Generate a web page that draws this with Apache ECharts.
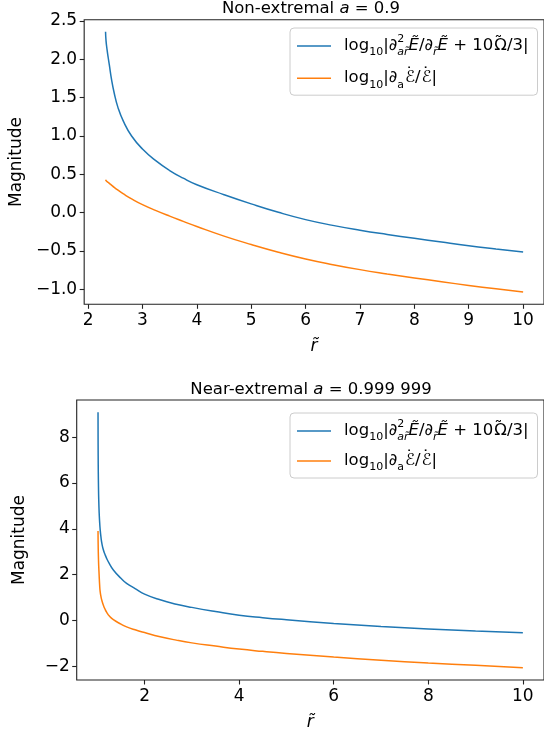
<!DOCTYPE html>
<html><head><meta charset="utf-8">
<script src="https://cdn.jsdelivr.net/npm/echarts@6/dist/echarts.min.js"></script>
<style>html,body{margin:0;padding:0;background:#fff}#c{width:544px;height:732px}</style>
</head><body><div id="c"></div>
<script>
// ---- data ----
const rTop = [2.321, 2.33, 2.35, 2.37, 2.39, 2.43, 2.48, 2.55, 2.65, 2.8, 3.0, 3.25, 3.5, 3.75, 4.0, 4.5, 5.0, 5.5, 6.0, 6.5, 7.0, 7.5, 8.0, 8.5, 9.0, 9.5, 10.0];
const blueTop = [2.36, 2.24, 2.12, 2.02, 1.93, 1.74, 1.56, 1.37, 1.19, 1.00, 0.83, 0.675, 0.55, 0.45, 0.365, 0.235, 0.115, 0.005, -0.09, -0.165, -0.228, -0.283, -0.334, -0.383, -0.43, -0.472, -0.512];
const orangeTop = [0.43, 0.42, 0.405, 0.395, 0.383, 0.36, 0.33, 0.293, 0.245, 0.18, 0.105, 0.027, -0.045, -0.113, -0.18, -0.305, -0.415, -0.515, -0.603, -0.677, -0.742, -0.798, -0.85, -0.9, -0.948, -0.992, -1.033];

const rBottom = [1.016, 1.017, 1.019, 1.022, 1.026, 1.03, 1.04, 1.05, 1.06, 1.08, 1.1, 1.13, 1.16, 1.2, 1.25, 1.34, 1.5, 1.62, 1.8, 2.0, 2.33, 2.67, 3.0, 3.5, 4.0, 4.5, 5.0, 6.0, 7.0, 8.0, 9.0, 10.0];
const blueBottom = [9.09, 8.1, 7.2, 6.4, 5.8, 5.35, 4.7, 4.3, 4.0, 3.6, 3.33, 3.07, 2.9, 2.7, 2.5, 2.2, 1.84, 1.62, 1.39, 1.15, 0.9, 0.71, 0.57, 0.39, 0.23, 0.12, 0.03, -0.13, -0.265, -0.375, -0.465, -0.54];
const orangeBottom = [3.9, 3.6, 3.3, 2.95, 2.65, 2.4, 1.95, 1.55, 1.28, 1.02, 0.85, 0.66, 0.51, 0.35, 0.2, 0.03, -0.16, -0.28, -0.41, -0.53, -0.71, -0.86, -0.98, -1.12, -1.25, -1.35, -1.44, -1.6, -1.74, -1.86, -1.96, -2.06];

const xTicksTop = [2, 3, 4, 5, 6, 7, 8, 9, 10];
const yTicksTop = [-1.0, -0.5, 0.0, 0.5, 1.0, 1.5, 2.0, 2.5];
const xTicksBottom = [2, 4, 6, 8, 10];
const yTicksBottom = [-2, 0, 2, 4, 6, 8];

const seriesNames = ['log10|∂²ar̃Ẽ/∂r̃Ẽ + 10Ω̃/3|', 'log10|∂aℰ̇/ℰ̇|'];
const titleTop = ['Non-extremal ', 'a', ' = 0.9'];
const titleBottom = ['Near-extremal ', 'a', ' = 0.999 999'];
const xName = 'r\u0303';
const yName = 'Magnitude';

// ---- chart ----
const FONT = 'DejaVu Sans';
const AX = '#222';
const C0 = '#1f77b4', C1 = '#ff7f0e';

function pairs(xs, ys) { return xs.map((x, i) => [x, ys[i]]); }
function fmt(v, d) { return (v < 0 ? '\u2212' : '') + Math.abs(v).toFixed(d); }

const LF = 16.5;
const richLegend = {
  t: { fontFamily: FONT, fontSize: LF, lineHeight: 24, color: '#000' },
  ti: { fontFamily: FONT, fontSize: LF, lineHeight: 24, color: '#000', fontStyle: 'italic' },
  s: { fontFamily: FONT, fontSize: 11, lineHeight: 12, verticalAlign: 'bottom', color: '#000' },
  si: { fontFamily: FONT, fontSize: 11, lineHeight: 12, verticalAlign: 'bottom', color: '#000', fontStyle: 'italic' },
  p: { fontFamily: FONT, fontSize: 11, lineHeight: 12, verticalAlign: 'top', color: '#000', width: 0 },
  d: { fontFamily: FONT, fontSize: LF, lineHeight: 14, verticalAlign: 'top', color: '#000', width: 0, padding: [0, 0, 0, 1] },
  w: { fontFamily: FONT, fontSize: LF, lineHeight: 16, verticalAlign: 'top', color: '#000', width: 0, padding: [0, 0, 0, 1] }
};
const legendRich = {};
legendRich[seriesNames[0]] = '{t|log}{s|10}{t||}{ti|∂}{p|2}{si|ar\u0303}{ti|Ẽ}{t|/}{ti|∂}{si|r\u0303}{ti|Ẽ}{t| + 10}{w|˜}{t|Ω/3|}';
legendRich[seriesNames[1]] = '{t|log}{s|10}{t||}{ti|∂}{s|a}{d|˙}{t|ℰ/}{d|˙}{t|ℰ|}';

function makeLegend(top, gap) {
  return {
    left: 290, top: top, orient: 'vertical', icon: 'rect', itemWidth: 34, itemHeight: 1.6,
    itemGap: gap, padding: [6, 9, 5, 7],
    backgroundColor: 'rgba(255,255,255,0.8)', borderColor: '#cccccc', borderWidth: 1, borderRadius: 4,
    data: seriesNames, selectedMode: false,
    formatter: n => legendRich[n],
    textStyle: { padding: [0, 0, 0, 8], rich: richLegend }
  };
}

function xAxis(idx, min, max, ticks) {
  return {
    type: 'value', gridIndex: idx, min: min, max: max,
    axisLine: { show: false, onZero: false },
    axisTick: { show: true, length: 4.5, lineStyle: { color: AX, width: 1.1 }, customValues: ticks },
    axisLabel: { customValues: ticks, margin: 8, fontFamily: FONT, fontSize: 17, color: '#000', formatter: v => String(v) },
    splitLine: { show: false },
    name: xName, nameLocation: 'middle', nameGap: 34,
    nameTextStyle: { fontFamily: FONT, fontSize: 17, fontStyle: 'italic', color: '#000' }
  };
}
function yAxis(idx, min, max, ticks, d) {
  return {
    type: 'value', gridIndex: idx, min: min, max: max,
    axisLine: { show: false, onZero: false },
    axisTick: { show: true, length: 4.5, lineStyle: { color: AX, width: 1.1 }, customValues: ticks },
    axisLabel: { customValues: ticks, margin: 7, fontFamily: FONT, fontSize: 17, color: '#000', formatter: v => fmt(v, d) },
    splitLine: { show: false },
    name: yName, nameLocation: 'middle', nameGap: 49,
    nameTextStyle: { fontFamily: FONT, fontSize: 17, color: '#000' }
  };
}
function line(name, idx, data, color) {
  return {
    type: 'line', name: name, xAxisIndex: idx, yAxisIndex: idx, data: data,
    symbol: 'none', showSymbol: false, smooth: 0.5,
    lineStyle: { color: color, width: 1.5 }, itemStyle: { color: color }
  };
}

const titleRich = {
  n: { fontFamily: FONT, fontSize: 16.5, color: '#000' },
  i: { fontFamily: FONT, fontSize: 16.5, color: '#000', fontStyle: 'italic' }
};

const chart = echarts.init(document.getElementById('c'), null, { renderer: 'canvas' });
chart.setOption({
  animation: false,
  backgroundColor: '#fff',
  title: [
    { text: '{n|' + titleTop[0] + '}{i|' + titleTop[1] + '}{n|' + titleTop[2] + '}', left: 311, top: 0, padding: 0, textAlign: 'center',
      textStyle: { rich: titleRich, fontFamily: FONT, fontSize: 16.5, fontWeight: 'normal' } },
    { text: '{n|' + titleBottom[0] + '}{i|' + titleBottom[1] + '}{n|' + titleBottom[2] + '}', left: 311, top: 381.5, padding: 0, textAlign: 'center',
      textStyle: { rich: titleRich, fontFamily: FONT, fontSize: 16.5, fontWeight: 'normal' } }
  ],
  legend: [makeLegend(28, 8.2), makeLegend(413, 6)],
  grid: [
    { left: 76.7, top: 19.7, width: 468.9, height: 284.6, show: true, borderColor: AX, borderWidth: 1.1, backgroundColor: 'transparent' },
    { left: 76.7, top: 400, width: 468.9, height: 285.3, show: true, borderColor: AX, borderWidth: 1.1, backgroundColor: 'transparent' }
  ],
  xAxis: [xAxis(0, 1.928, 10.384, xTicksTop), xAxis(1, 0.565, 10.447, xTicksBottom)],
  yAxis: [yAxis(0, -1.194, 2.516, yTicksTop, 1), yAxis(1, -2.6, 9.62, yTicksBottom, 0)],
  series: [
    line(seriesNames[0], 0, pairs(rTop, blueTop), C0),
    line(seriesNames[1], 0, pairs(rTop, orangeTop), C1),
    line(seriesNames[0], 1, pairs(rBottom, blueBottom), C0),
    line(seriesNames[1], 1, pairs(rBottom, orangeBottom), C1)
  ]
});
</script></body></html>
